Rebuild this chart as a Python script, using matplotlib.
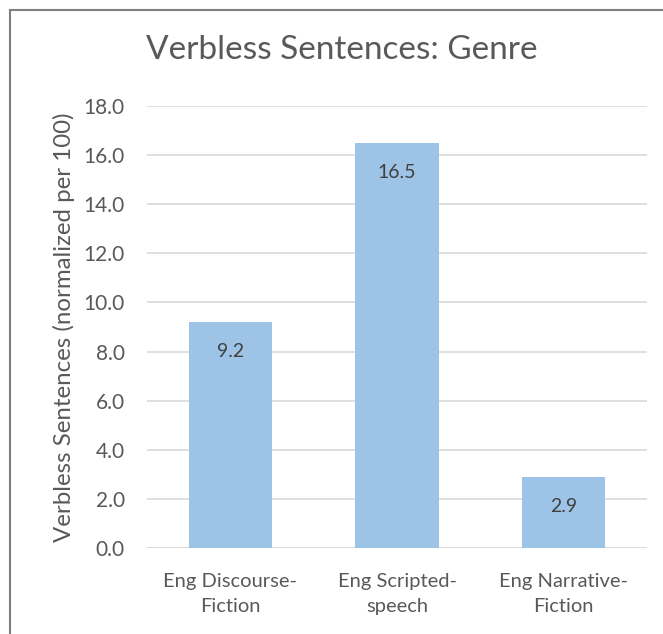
import matplotlib.pyplot as plt
from matplotlib.lines import Line2D

categories = ["Eng Discourse-\nFiction", "Eng Scripted-\nspeech", "Eng Narrative-\nFiction"]
values = [9.2, 16.5, 2.9]
yticks = [0, 2, 4, 6, 8, 10, 12, 14, 16, 18]

plt.rcParams['font.family'] = ['Lato', 'DejaVu Sans']
txt = '#595959'

fig = plt.figure(figsize=(6.63, 6.34), dpi=100)
ax = fig.add_axes([147 / 663, 1 - 548 / 634, 500 / 663, 442 / 634])

x = range(len(values))
bars = ax.bar(x, values, width=0.5, color='#9DC3E6', zorder=2)
for b, v in zip(bars, values):
    ax.text(b.get_x() + b.get_width() / 2, v - 1.2, f"{v:.1f}", ha='center', va='center',
            fontsize=14, color='#404040')

ax.set_xlim(-0.5, 2.5)
ax.set_ylim(0, 18)
ax.set_yticks(yticks)
ax.set_yticklabels([f"{t:.1f}" for t in yticks], fontsize=15, color=txt)
ax.set_xticks(list(x))
ax.set_xticklabels(categories, fontsize=14.5, color=txt, linespacing=1.6)
ax.tick_params(axis='y', length=0, pad=16)
ax.tick_params(axis='x', length=0, pad=18)
ax.yaxis.grid(True, color='#D9D9D9', linewidth=1.2, zorder=0)
for s in ax.spines.values():
    s.set_visible(False)
ax.axhline(0, color='#D9D9D9', linewidth=1.2, zorder=1)

ax.set_ylabel("Verbless Sentences (normalized per 100)", fontsize=17.3, color=txt, labelpad=6)
fig.text(342 / 663, 1 - 50 / 634, "Verbless Sentences: Genre", ha='center', va='center',
         fontsize=24, color=txt)

# chart border (cropped on right and bottom)
fig.add_artist(Line2D([10 / 663, 10 / 663], [0, 1 - 10 / 634], color='#7F7F7F', lw=1.5, transform=fig.transFigure))
fig.add_artist(Line2D([10 / 663, 1], [1 - 10 / 634, 1 - 10 / 634], color='#7F7F7F', lw=1.5, transform=fig.transFigure))

fig.savefig("out.png", dpi=100)
